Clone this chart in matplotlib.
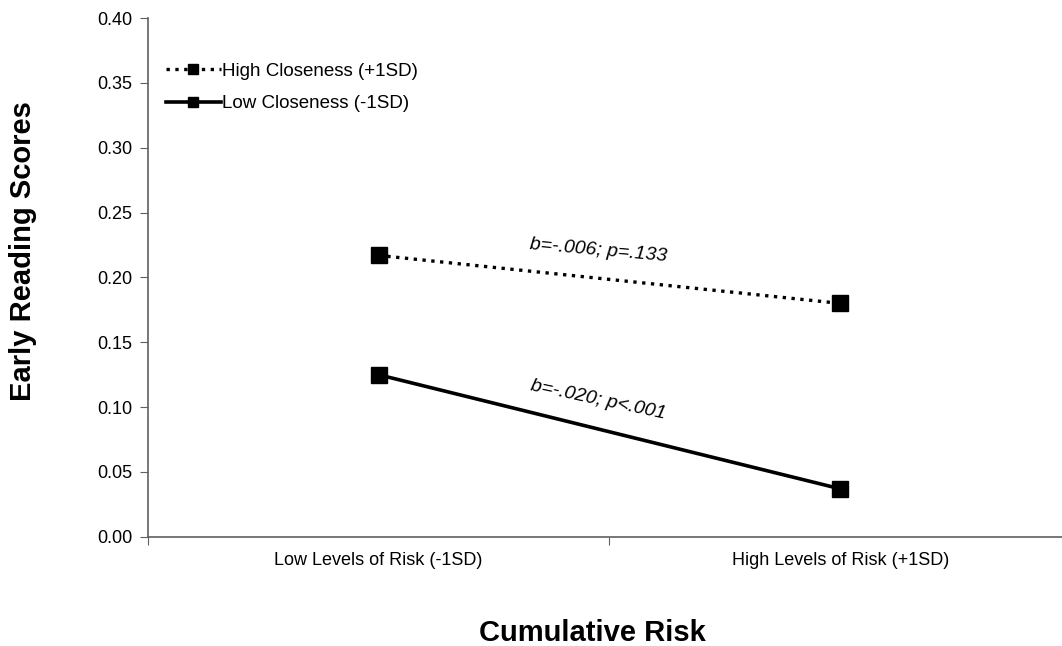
import matplotlib.pyplot as plt

plt.rcParams['font.family'] = ['Liberation Sans', 'DejaVu Sans']

# Данные
categories = ["Low Levels of Risk (-1SD)", "High Levels of Risk (+1SD)"]
high_closeness = [0.217, 0.180]
low_closeness = [0.125, 0.037]
series_labels = ["High Closeness (+1SD)", "Low Closeness (-1SD)"]
annotations = ["b=-.006; p=.133", "b=-.020; p<.001"]
yticks = [0.00, 0.05, 0.10, 0.15, 0.20, 0.25, 0.30, 0.35, 0.40]

fig = plt.figure(figsize=(10.62, 6.46), dpi=100)
ax = fig.add_axes([0.139, 0.169, 0.861, 0.803])

x = [1, 2]
ax.plot(x, high_closeness, color='black', linestyle=':', linewidth=2.4,
        marker='s', markersize=11, label=series_labels[0])
ax.plot(x, low_closeness, color='black', linestyle='-', linewidth=2.6,
        marker='s', markersize=11, label=series_labels[1])

# Подписи коэффициентов вдоль линий
ax.text(1.475, 0.2205, annotations[0], fontsize=14, style='italic',
        rotation=-5, ha='center', va='center')
ax.text(1.475, 0.1055, annotations[1], fontsize=14, style='italic',
        rotation=-12, ha='center', va='center')

ax.set_xlim(0.5, 2.48)
ax.set_ylim(0, 0.40)
ax.set_yticks(yticks)
ax.set_yticklabels([f"{v:.2f}" for v in yticks], fontsize=13)
ax.set_xticks([0.5, 1.5])
ax.set_xticklabels([])
ax.set_xticks(x, minor=True)
ax.set_xticklabels(categories, minor=True, fontsize=13)
ax.tick_params(axis='x', which='minor', length=0, pad=11)
ax.tick_params(axis='x', which='major', length=6, direction='out', color='#606060')
ax.tick_params(axis='y', length=6, direction='out', color='#606060', pad=5)

for side in ['top', 'right']:
    ax.spines[side].set_visible(False)
for side in ['left', 'bottom']:
    ax.spines[side].set_color('#606060')
    ax.spines[side].set_linewidth(1.2)

ax.legend(loc='upper left', bbox_to_anchor=(0.006, 0.939), frameon=False,
          fontsize=13.5, handlelength=2.9, handletextpad=0.1, labelspacing=0.82,
          borderaxespad=0.3, markerscale=0.7)

fig.text(0.558, 0.02, "Cumulative Risk", fontsize=21, fontweight='bold',
         ha='center', va='center')
fig.text(0.022, 0.611, "Early Reading Scores", fontsize=21, fontweight='bold',
         rotation=90, ha='center', va='center')

fig.savefig("out.png", dpi=100)
